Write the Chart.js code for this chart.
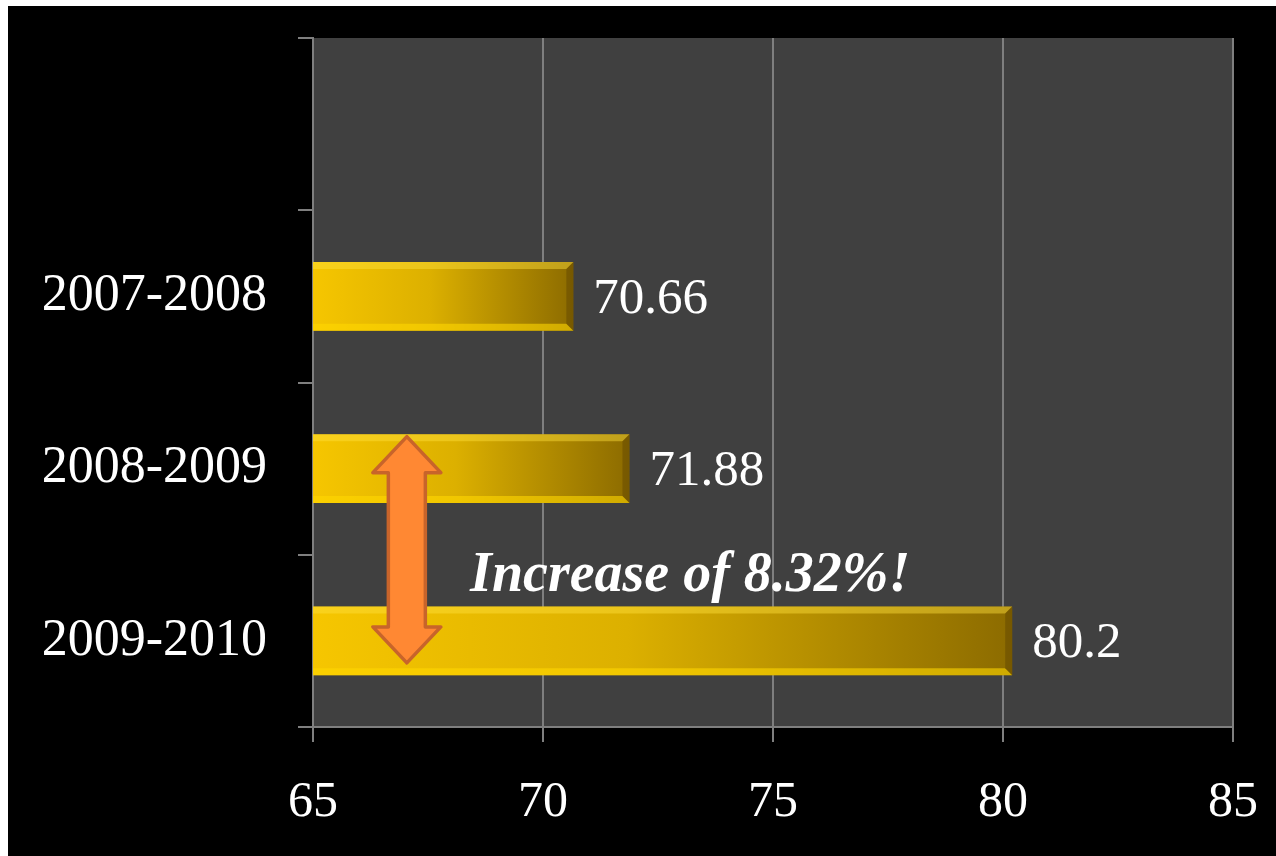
<!DOCTYPE html>
<html>
<head>
<meta charset="utf-8">
<script src="https://cdn.jsdelivr.net/npm/chart.js@4.4.1/dist/chart.umd.min.js"></script>
<style>
  html, body { margin: 0; padding: 0; background: #fff; }
  #wrap { position: absolute; left: 8px; top: 6px; width: 1268px; height: 850px; background: #000; }
</style>
</head>
<body>
<div id="wrap"><canvas id="graph"></canvas></div>
<script>
// chart data
const categories = ['', '2007-2008', '2008-2009', '2009-2010'];
const values = [null, 70.66, 71.88, 80.2];
const xTicks = [65, 70, 75, 80, 85];
const note = 'Increase of 8.32%!';

const gridColor = '#7f7f7f';
const serif = '"Liberation Serif", "Times New Roman", serif';

// dark plot area behind the bars
const plotBg = {
  id: 'plotBg',
  beforeDraw(chart) {
    const { ctx, chartArea: a } = chart;
    ctx.save();
    ctx.fillStyle = '#404040';
    ctx.fillRect(a.left, a.top, a.right - a.left, a.bottom - a.top);
    ctx.restore();
  }
};

// bevel edges, value labels, arrow and note
const extras = {
  id: 'extras',
  afterDatasetsDraw(chart) {
    const { ctx, chartArea } = chart;
    const xs = chart.scales.x, ys = chart.scales.y;
    const meta = chart.getDatasetMeta(0);
    ctx.save();
    meta.data.forEach((bar, i) => {
      if (values[i] == null) return;
      const top = bar.y - bar.height / 2, bot = bar.y + bar.height / 2;
      const l = Math.max(bar.base, chartArea.left), r = bar.x, b = 7;
      ctx.fillStyle = 'rgba(255,225,60,0.45)';
      ctx.beginPath();
      ctx.moveTo(l, top); ctx.lineTo(r, top); ctx.lineTo(r - b, top + b); ctx.lineTo(l, top + b);
      ctx.fill();
      ctx.fillStyle = 'rgba(255,215,0,0.6)';
      ctx.beginPath();
      ctx.moveTo(l, bot); ctx.lineTo(r, bot); ctx.lineTo(r - b, bot - b); ctx.lineTo(l, bot - b);
      ctx.fill();
      ctx.fillStyle = 'rgba(80,55,0,0.35)';
      ctx.beginPath();
      ctx.moveTo(r, top); ctx.lineTo(r, bot); ctx.lineTo(r - b, bot - b); ctx.lineTo(r - b, top + b);
      ctx.fill();

      ctx.fillStyle = '#fff';
      ctx.font = '51px ' + serif;
      ctx.textAlign = 'left';
      ctx.textBaseline = 'middle';
      ctx.fillText(String(values[i]), r + 20, bar.y + 3);
    });

    // double arrow between the last two bars
    const ax = xs.getPixelForValue(67.04);
    const y1 = ys.getPixelForValue(2) - 32;
    const y2 = ys.getPixelForValue(3) + 22;
    const hw = 34, sw = 18.5, hh = 36;
    ctx.beginPath();
    ctx.moveTo(ax, y1);
    ctx.lineTo(ax + hw, y1 + hh);
    ctx.lineTo(ax + sw, y1 + hh);
    ctx.lineTo(ax + sw, y2 - hh);
    ctx.lineTo(ax + hw, y2 - hh);
    ctx.lineTo(ax, y2);
    ctx.lineTo(ax - hw, y2 - hh);
    ctx.lineTo(ax - sw, y2 - hh);
    ctx.lineTo(ax - sw, y1 + hh);
    ctx.lineTo(ax - hw, y1 + hh);
    ctx.closePath();
    ctx.fillStyle = '#ff8833';
    ctx.fill();
    ctx.lineWidth = 3.5;
    ctx.lineJoin = 'round';
    ctx.strokeStyle = '#c8642a';
    ctx.stroke();

    // note text
    ctx.fillStyle = '#fff';
    ctx.font = 'italic bold 56px ' + serif;
    ctx.textAlign = 'center';
    ctx.textBaseline = 'middle';
    const ny = (ys.getPixelForValue(2) + ys.getPixelForValue(3)) / 2 + 22;
    ctx.fillText(note, xs.getPixelForValue(73.2), ny);
    ctx.restore();
  }
};

new Chart(document.getElementById('graph'), {
  type: 'bar',
  plugins: [plotBg, extras],
  data: {
    labels: categories,
    datasets: [{
      data: values,
      barPercentage: 0.4,
      categoryPercentage: 1,
      borderWidth: 0,
      backgroundColor: (c) => {
        const chart = c.chart;
        if (!chart.chartArea || c.raw == null) return '#d4a800';
        const xs = chart.scales.x;
        const g = chart.ctx.createLinearGradient(xs.getPixelForValue(65), 0, xs.getPixelForValue(c.raw), 0);
        g.addColorStop(0, '#f6c600');
        g.addColorStop(0.45, '#dcb000');
        g.addColorStop(1, '#8c6b00');
        return g;
      }
    }]
  },
  options: {
    indexAxis: 'y',
    responsive: true,
    maintainAspectRatio: false,
    devicePixelRatio: 1,
    animation: false,
    layout: { padding: { top: 32, right: 43, left: 0, bottom: 0 } },
    plugins: {
      legend: { display: false },
      tooltip: { enabled: false }
    },
    scales: {
      x: {
        min: 65,
        max: 85,
        afterBuildTicks: (s) => { s.ticks = xTicks.map(v => ({ value: v })); },
        afterFit: (s) => { s.height = 129; s.paddingLeft = 0; s.paddingRight = 0; },
        grid: { color: gridColor, lineWidth: 2, tickLength: 15 },
        border: { color: gridColor, width: 2 },
        ticks: {
          color: '#fff',
          padding: 31,
          font: { family: serif, size: 50 }
        }
      },
      y: {
        afterFit: (s) => { s.width = 305; s.paddingTop = 0; s.paddingBottom = 0; },
        grid: { offset: true, drawOnChartArea: false, color: gridColor, lineWidth: 2, tickLength: 15 },
        border: { color: gridColor, width: 2 },
        ticks: {
          color: '#fff',
          padding: 31,
          font: { family: serif, size: 52 }
        }
      }
    }
  }
});
</script>
</body>
</html>
